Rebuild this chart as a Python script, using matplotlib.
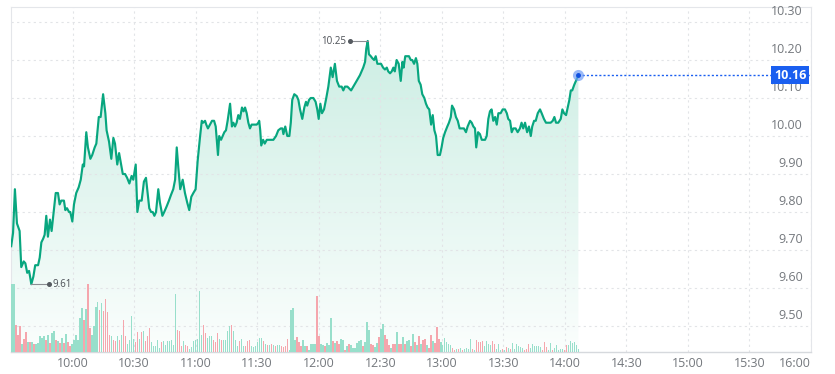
import numpy as np
import matplotlib
matplotlib.use("Agg")
import matplotlib.pyplot as plt
import matplotlib.transforms as mtransforms
from matplotlib.colors import LinearSegmentedColormap

plt.rcParams['font.family'] = ['Open Sans', 'DejaVu Sans']

# price trace: minutes after 9:30 and price
minutes = [0.1, 1.0, 1.9, 2.9, 4.2, 5.0, 6.2, 7.0, 7.9, 8.8, 9.3, 9.9, 10.9, 11.8, 13.2, 14.0,
           14.8, 15.7, 16.4, 17.2, 18.0, 19.0, 19.8, 21.0, 21.8, 22.9, 23.7, 24.5, 25.8, 26.5,
           27.3, 28.3, 28.9, 29.9, 30.7, 31.8, 33.0, 34.0, 35.0, 35.6, 36.7, 37.5, 38.7, 39.6,
           40.8, 41.6, 42.8, 43.7, 44.9, 46.0, 46.6, 47.8, 48.9, 49.9, 50.7, 51.8, 52.7, 53.5,
           54.5, 55.6, 56.6, 57.7, 58.8, 59.6, 60.8, 61.6, 62.5, 63.7, 64.8, 65.8, 66.6, 67.4,
           68.3, 69.1, 69.9, 70.7, 71.8, 72.6, 73.8, 74.7, 75.9, 77.0, 78.0, 79.1, 80.0, 80.8,
           81.6, 82.5, 83.7, 84.8, 85.9, 86.9, 87.9, 88.9, 90.0, 91.0, 92.1, 93.0, 93.7, 94.6,
           95.2, 96.0, 97.0, 98.0, 99.0, 99.8, 100.3, 100.9, 101.5, 102.4, 103.2, 104.0, 104.8,
           105.6, 106.8, 107.7, 108.4, 109.2, 110.0, 110.8, 111.6, 112.6, 113.4, 114.1, 114.9,
           115.7, 116.5, 117.3, 118.1, 119.8, 120.6, 121.0, 121.5, 122.0, 122.9, 123.7, 124.7,
           125.4, 127.1, 127.9, 129.2, 130.3, 131.5, 132.3, 132.8, 133.7, 134.7, 135.7, 136.4,
           137.1, 138.1, 139.3, 140.1, 140.9, 142.0, 143.0, 143.8, 144.4, 145.3, 146.1, 147.4,
           148.5, 149.3, 150.0, 150.8, 151.6, 152.6, 153.7, 154.7, 155.9, 156.8, 157.9, 158.9,
           160.0, 161.2, 162.0, 162.8, 164.0, 164.9, 165.8, 166.9, 168.5, 170.1, 171.7, 172.6,
           173.2, 173.9, 174.5, 175.4, 176.1, 177.0, 177.8, 178.6, 179.5, 180.4, 181.4, 182.3,
           183.2, 183.9, 184.8, 185.6, 186.4, 187.1, 188.0, 189.0, 190.0, 190.8, 191.4, 192.2,
           193.2, 194.0, 194.9, 195.6, 196.5, 197.4, 198.1, 198.8, 199.7, 200.5, 201.5, 202.3,
           203.1, 203.9, 204.8, 205.6, 206.4, 207.2, 208.0, 209.1, 209.9, 210.7, 211.6, 212.7,
           213.5, 214.4, 215.0, 216.0, 216.9, 217.8, 218.7, 219.7, 220.8, 221.8, 222.6, 223.8,
           224.6, 225.4, 226.2, 226.8, 227.7, 228.6, 229.5, 231.1, 231.9, 232.7, 233.5, 234.3,
           235.1, 236.0, 236.8, 237.6, 238.7, 239.7, 240.8, 241.7, 242.4, 243.3, 244.1, 244.9,
           246.0, 247.0, 248.1, 248.9, 249.7, 250.6, 251.6, 252.5, 253.4, 254.1, 255.0, 255.8,
           256.8, 257.9, 258.7, 259.8, 260.8, 261.9, 263.1, 264.1, 264.9, 265.7, 266.8, 268.0,
           268.8, 269.6, 270.6, 271.4, 272.2, 272.9, 273.6, 274.6, 275.4, 276.6]
prices = [9.71, 9.745, 9.86, 9.77, 9.75, 9.655, 9.67, 9.665, 9.64, 9.645, 9.63, 9.61, 9.63, 9.66,
          9.66, 9.68, 9.72, 9.73, 9.74, 9.79, 9.735, 9.78, 9.75, 9.81, 9.85, 9.85, 9.82, 9.83,
          9.83, 9.805, 9.81, 9.80, 9.80, 9.775, 9.82, 9.85, 9.865, 9.885, 9.925, 9.92, 10.01,
          9.97, 9.94, 9.95, 9.97, 9.98, 10.05, 10.05, 10.11, 10.06, 10.015, 9.985, 9.94, 9.995,
          9.98, 9.925, 9.955, 9.93, 9.90, 9.90, 9.89, 9.875, 9.895, 9.885, 9.925, 9.80, 9.83,
          9.83, 9.88, 9.89, 9.85, 9.81, 9.80, 9.80, 9.79, 9.80, 9.86, 9.825, 9.79, 9.80, 9.815,
          9.83, 9.845, 9.86, 9.885, 9.97, 9.915, 9.86, 9.885, 9.85, 9.825, 9.805, 9.84, 9.85,
          9.86, 9.935, 9.995, 10.04, 10.035, 10.04, 10.03, 10.02, 10.03, 10.04, 10.04, 10.025,
          9.99, 9.95, 10.00, 9.99, 10.00, 10.01, 10.015, 10.04, 10.085, 10.025, 10.035, 10.025,
          10.035, 10.055, 10.045, 10.075, 10.065, 10.075, 10.06, 10.035, 10.02, 10.03, 10.03,
          10.03, 10.035, 10.04, 10.015, 9.975, 9.99, 9.98, 9.99, 9.99, 9.99, 9.99, 10.00, 10.015,
          10.02, 10.02, 10.005, 10.025, 10.00, 10.00, 10.035, 10.095, 10.11, 10.105, 10.095,
          10.07, 10.045, 10.075, 10.09, 10.08, 10.095, 10.10, 10.10, 10.09, 10.07, 10.045, 10.085,
          10.06, 10.07, 10.10, 10.13, 10.18, 10.155, 10.19, 10.145, 10.13, 10.13, 10.12, 10.13,
          10.13, 10.125, 10.12, 10.13, 10.145, 10.16, 10.18, 10.195, 10.23, 10.25, 10.215, 10.21,
          10.205, 10.20, 10.21, 10.19, 10.19, 10.19, 10.18, 10.175, 10.18, 10.17, 10.165, 10.17,
          10.18, 10.17, 10.20, 10.19, 10.145, 10.195, 10.18, 10.21, 10.21, 10.21, 10.20, 10.20,
          10.19, 10.205, 10.19, 10.145, 10.135, 10.11, 10.10, 10.085, 10.075, 10.07, 10.03,
          10.055, 10.015, 10.00, 9.95, 9.95, 9.97, 9.995, 10.01, 10.025, 10.035, 10.05, 10.08,
          10.07, 10.05, 10.04, 10.02, 10.02, 10.02, 10.01, 10.025, 10.04, 10.035, 10.025, 10.02,
          9.97, 10.01, 10.005, 9.99, 9.99, 10.00, 10.045, 10.065, 10.07, 10.04, 10.05, 10.03,
          10.06, 10.06, 10.07, 10.07, 10.06, 10.045, 10.04, 10.01, 10.02, 10.02, 10.01, 10.02,
          10.035, 10.02, 10.035, 10.01, 10.025, 10.00, 10.025, 10.04, 10.04, 10.06, 10.07, 10.06,
          10.045, 10.035, 10.035, 10.035, 10.04, 10.05, 10.035, 10.035, 10.045, 10.07, 10.06,
          10.055, 10.075, 10.095, 10.12, 10.12, 10.135, 10.145, 10.16]

# per-minute volume bars (relative units) and direction (g = up, r = down)
vol = [68, 68, 27, 17, 26, 8, 13, 20, 10, 10, 10, 8, 8, 9, 16, 14, 16, 12, 17, 9,
       19, 21, 12, 11, 9, 14, 9, 18, 10, 6, 8, 12, 17, 12, 34, 44, 32, 43, 68, 24,
       17, 26, 45, 50, 42, 49, 41, 53, 40, 17, 16, 12, 11, 16, 12, 17, 32, 16, 8, 12,
       36, 13, 10, 20, 13, 20, 21, 11, 16, 24, 10, 6, 6, 12, 4, 10, 11, 7, 11, 11,
       12, 7, 58, 22, 21, 6, 11, 7, 6, 3, 5, 11, 12, 13, 61, 17, 27, 19, 14, 16,
       16, 12, 10, 19, 13, 12, 12, 12, 21, 26, 27, 21, 12, 6, 11, 13, 6, 6, 11, 12,
       6, 5, 6, 10, 14, 14, 11, 8, 7, 7, 8, 7, 6, 7, 7, 6, 5, 6, 13, 2,
       42, 44,
       12, 15, 10, 6, 12, 6, 6, 2, 8, 8, 8, 56, 16, 8, 7, 6, 9, 7, 34, 11,
       9, 11, 8, 13, 12, 2, 6, 8, 7, 4, 4, 9, 11, 12, 6, 10, 30, 22, 8, 7,
       5, 9, 15, 23, 28, 17, 13, 7, 4, 8, 8, 20, 8, 8, 15, 8, 11, 12, 6, 18,
       10, 7, 16, 8, 12, 13, 7, 4, 17, 11, 9, 25, 13, 10, 7, 14, 10, 8, 7, 4,
       2, 3, 3, 4, 2, 3, 4, 3, 13, 3, 2, 12, 10, 10, 11, 6, 11, 8, 7, 11,
       8, 3, 8, 2, 3, 2, 5, 4, 3, 9, 3, 8, 6, 5, 4, 2, 3, 8, 4, 8,
       6, 6, 6, 5, 2, 10, 5, 2, 9, 2, 4, 7, 2, 3, 3, 2, 7, 7, 11, 9,
       10, 7, 3]
vol_dir = ("ggrrrgrrgr" "grgggggrgr" "ggrgrgrgrr" "ggggggrgrr" "ggggrgrrrr"
           "grrgrgrrgg" "ggrrgrgrrr" "gggggrgggg" "gggrrrgrrg" "ggggggrrgg"
           "grrrgrgggg" "rgggrggrrr" "ggggggrgrg" "rgrggrrrrg" "gg"
           "grrrggrggg" "grrggrgggr" "grrggrgrgg" "ggggrgggrr" "ggrggrrrgr"
           "rgrrgrggrg" "rgrgrrgrrg" "rrrggggggr" "rgrgrggggr" "grrrrggggr"
           "rgggrgrgrg" "gggggrrrgg" "ggggrrrggr" "gggggrrggg" "ggg")

open_time = ["10:00", "10:30", "11:00", "11:30", "12:00", "12:30", "13:00",
             "13:30", "14:00", "14:30", "15:00", "15:30", "16:00"]
price_ticks = [9.50, 9.60, 9.70, 9.80, 9.90, 10.00, 10.10, 10.20, 10.30]
last_price = 10.16
hi_price, lo_price = 10.25, 9.61

line_c = "#08a67f"
blue = "#1a5ff0"
txt_c = "#74787d"

fig = plt.figure(figsize=(8.35, 3.74), dpi=100)
ax = fig.add_axes([11 / 835, 22 / 374, 800 / 835, 345 / 374])
y0, y1 = 9.4316, 10.3395
ax.set_xlim(0, 390)
ax.set_ylim(y0, y1)

t = np.array(minutes)
p = np.array(prices)

# gradient fill under the line
grad = LinearSegmentedColormap.from_list("g", ["#fbfefd", "#cdeee4"])
img = ax.imshow(np.linspace(0, 1, 256).reshape(-1, 1), cmap=grad, aspect="auto",
                extent=[t[0], t[-1], y0, hi_price], origin="lower", zorder=1)
poly = ax.fill_between(t, p, y0, facecolor="none", edgecolor="none")
clip = poly.get_paths()[0]
img.set_clip_path(clip, transform=ax.transData)

ax.plot(t, p, color=line_c, lw=1.55, zorder=4)

# volume on a twin axis
vax = ax.twinx()
vax.set_ylim(0, 345)
vax.axis("off")
vt = np.linspace(0.5, 276.6, len(vol))
cols = ["#98dfcb" if d == "g" else "#f5a6ad" for d in vol_dir]
vax.bar(vt, vol, width=0.7, color=cols, linewidth=0, zorder=2)

# grid
ax.set_yticks(price_ticks)
ax.set_xticks(range(30, 391, 30))
ax.grid(True, color="#e2e4e7", lw=0.8, linestyle=(0, (2, 3)))
ax.tick_params(length=0)
ax.set_yticklabels([])
ax.set_xticklabels(open_time, color=txt_c, fontsize=9)
ax.tick_params(axis="x", pad=3.5)
ax.get_xticklabels()[-1].set_horizontalalignment("right")
for s in ["left", "right", "top"]:
    ax.spines[s].set_color("#e4e6ea")
    ax.spines[s].set_linewidth(0.8)
ax.spines["bottom"].set_color("#d6d9dd")
ax.spines["bottom"].set_linewidth(1.0)

trans = mtransforms.blended_transform_factory(ax.transAxes, ax.transData)
for v in price_ticks:
    ax.annotate(f"{v:.2f}", xy=(0.99, v), xycoords=trans, xytext=(0, 3),
                textcoords="offset points", ha="right", va="bottom",
                color=txt_c, fontsize=9, zorder=5)

# last price marker
ax.plot([t[-1], 390], [last_price, last_price], color=blue, lw=1, linestyle=(0, (1.5, 1.5)), zorder=5)
ax.plot(t[-1], last_price, "o", ms=8, color="#6f9cf5", alpha=0.7, mec="none", zorder=6)
ax.plot(t[-1], last_price, "o", ms=2.5, color="#0f4fe0", zorder=7)
ax.annotate(f"{last_price:.2f}", xy=(0.994, last_price), xycoords=trans, ha="right", va="center",
            color="white", fontsize=9, fontweight="bold", zorder=8,
            bbox=dict(boxstyle="square,pad=0.2", fc=blue, ec="none"))

# high / low labels
ihi = int(np.argmax(p))
ilo = int(np.argmin(p))
ax.plot([t[ihi] - 8.5, t[ihi]], [hi_price, hi_price], color="#8a8d92", lw=0.8, zorder=5)
ax.plot(t[ihi] - 8.5, hi_price, "o", ms=2.6, color="#555a60", zorder=5)
ax.text(t[ihi] - 10.5, hi_price, f"{hi_price:.2f}", ha="right", va="center",
        fontsize=7, color="#4b4f55", zorder=5)
ax.plot([t[ilo], t[ilo] + 8.5], [lo_price, lo_price], color="#8a8d92", lw=0.8, zorder=5)
ax.plot(t[ilo] + 8.5, lo_price, "o", ms=2.6, color="#555a60", zorder=5)
ax.text(t[ilo] + 10.5, lo_price, f"{lo_price:.2f}", ha="left", va="center",
        fontsize=7, color="#4b4f55", zorder=5)

fig.savefig("out.png", dpi=100, facecolor="white")
